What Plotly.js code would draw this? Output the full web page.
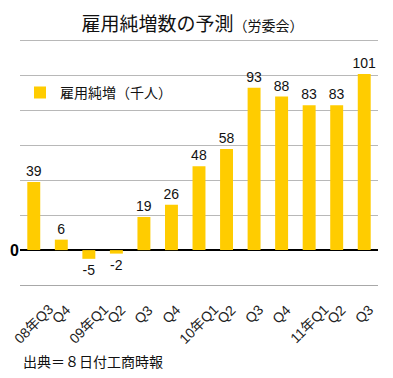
<!DOCTYPE html>
<html>
<head>
<meta charset="utf-8">
<script src="https://cdn.plot.ly/plotly-3.0.1.min.js"></script>
<style>html,body{margin:0;padding:0;background:#fff;}#chart{width:393px;height:378px;}</style>
</head>
<body>
<div id="chart"></div>
<script>
const categories = ["08年Q3","08年Q4","09年Q1","09年Q2","09年Q3","09年Q4","10年Q1","10年Q2","10年Q3","10年Q4","11年Q1","11年Q2","11年Q3"];
const tickLabels = ["08年Q3","Q4","09年Q1","Q2","Q3","Q4","10年Q1","Q2","Q3","Q4","11年Q1","Q2","Q3"];
const netJobs = [39, 6, -5, -2, 19, 26, 48, 58, 93, 88, 83, 83, 101];
const yTickVals = [-20, 0, 20, 40, 60, 80, 100, 120];
const seriesName = "雇用純増（千人）";
const titleMain = "雇用純増数の予測";
const titleSub = "（労委会）";
const sourceNote = "出典＝８日付工商時報";

const FONT = "Liberation Sans, Arial, 'Noto Sans CJK JP', sans-serif";
const JFONT = "'Noto Sans CJK JP', 'Liberation Sans', sans-serif";

const trace = {
  type: 'bar',
  x: categories,
  y: netJobs,
  name: seriesName,
  marker: {color: '#FFCC00'},
  width: 0.47,
  text: netJobs.map(String),
  textposition: 'outside',
  constraintext: 'none',
  cliponaxis: false,
  textfont: {family: FONT, size: 14, color: '#111'},
  hoverinfo: 'none'
};

const annotations = categories.map((c, i) => ({
  x: c, xref: 'x', y: 0, yref: 'paper',
  text: tickLabels[i], showarrow: false, textangle: -45,
  xanchor: 'center', yanchor: 'top', yshift: -14,
  font: {family: FONT, size: 14, color: '#222'}
}));
annotations.push({
  x: 0, xref: 'paper', xanchor: 'left', xshift: 1,
  y: -0.309, yref: 'paper', yanchor: 'middle',
  text: sourceNote, showarrow: false,
  font: {family: JFONT, size: 14, color: '#111'}
});

const layout = {
  width: 393, height: 378,
  margin: {l: 20, r: 15, t: 39, b: 93},
  paper_bgcolor: '#fff', plot_bgcolor: '#fff',
  title: {
    text: titleMain + '<span style="font-size:14px">' + titleSub + '</span>',
    font: {family: JFONT, size: 19, color: '#111'},
    x: 0.49, xanchor: 'center', y: 0.935, yanchor: 'middle'
  },
  showlegend: true,
  legend: {x: 0.0, xanchor: 'left', y: 0.781, yanchor: 'middle',
           bgcolor: 'rgba(0,0,0,0)', font: {family: JFONT, size: 14, color: '#111'}},
  xaxis: {
    type: 'category', showticklabels: false, showgrid: false, zeroline: false,
    showline: true, linecolor: '#a8a8a8', linewidth: 1, mirror: false,
    ticks: '', range: [-0.5, 12.5], fixedrange: true
  },
  yaxis: {
    range: [-20, 121], tickvals: yTickVals,
    ticktext: yTickVals.map(v => v === 0 ? '<b>0</b>' : ''),
    tickfont: {family: FONT, size: 16, color: '#000'},
    showgrid: true, gridcolor: '#b8b8b8', gridwidth: 1,
    zeroline: true, zerolinecolor: '#000', zerolinewidth: 1.5,
    showline: false, ticks: '', fixedrange: true
  },
  annotations: annotations,
  bargap: 0.5
};

Plotly.newPlot('chart', [trace], layout, {displayModeBar: false, staticPlot: true});
</script>
</body>
</html>
